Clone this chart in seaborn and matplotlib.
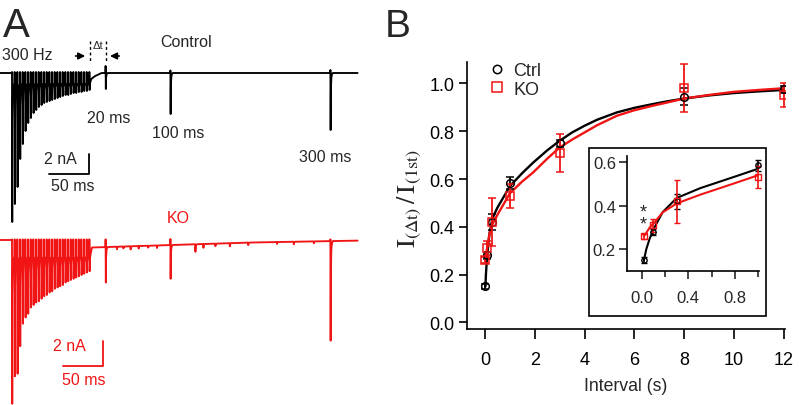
import numpy as np
import pandas as pd
import seaborn as sns
import matplotlib.pyplot as plt
from matplotlib.lines import Line2D
from matplotlib.patches import Rectangle

# ---------------- panel A : EPSC traces (time in ms, current in nA) ----------------
train_ms = [0.0, 3.3, 6.7, 10.0, 13.3, 16.7, 20.0, 23.3, 26.7, 30.0,
            33.3, 36.7, 40.0, 43.3, 46.7, 50.0, 53.3, 56.7, 60.0, 63.3,
            66.7, 70.0, 73.3, 76.7, 80.0, 83.3, 86.7, 90.0, 93.3, 96.7]
probe_ms = [117.0, 198.0, 398.0]
probe_labels = ["20 ms", "100 ms", "300 ms"]

ctrl_train_pk = [-14.9, -13.1, -11.4, -8.6, -7.1, -5.8, -5.0, -4.5, -4.0, -3.7,
                 -3.4, -3.2, -3.0, -2.9, -2.8, -2.7, -2.6, -2.5, -2.4, -2.3,
                 -2.2, -2.2, -2.1, -2.0, -2.0, -1.9, -1.9, -1.8, -1.8, -1.7]
ctrl_probe_pk = [-1.6, -4.1, -5.7]
ctrl_probe_top = [0.7, 0.25, 0.3]
ctrl_base_t = [-15, 0, 2, 97, 99, 104, 112, 432]
ctrl_base_i = [0, 0, -1.1, -1.1, -0.6, -0.3, 0, 0]

ko_train_pk = [-13.1, -10.9, -10.7, -8.5, -6.7, -6.2, -5.9, -5.4, -5.2, -5.0,
               -4.9, -4.7, -4.5, -4.4, -4.2, -4.1, -3.9, -3.8, -3.7, -3.6,
               -3.4, -3.3, -3.2, -3.1, -3.0, -2.9, -2.8, -2.7, -2.6, -2.5]
ko_probe_pk = [-3.4, -3.1, -8.05]
ko_probe_top = [0.05, 0.08, 0.05]
ko_base_t = [-15, 0, 2, 97, 100, 200, 300, 432]
ko_base_i = [0, 0, -1.4, -1.4, -0.6, -0.4, -0.2, -0.05]
ko_mini_t = [131, 139, 148, 158, 170, 181, 229, 239, 254, 272, 295, 331, 352, 377]
ko_mini_amp = [0.2, 0.15, 0.25, 0.2, 0.15, 0.2, 0.6, 0.3, 0.2, 0.25, 0.2, 0.15, 0.2, 0.15]

# ---------------- panel B : recovery from depression ----------------
interval_s = [0.02, 0.1, 0.3, 1, 3, 8, 12]
ctrl_mean = [0.15, 0.28, 0.42, 0.585, 0.75, 0.945, 0.975]
ctrl_sem = [0.012, 0.015, 0.035, 0.025, 0.015, 0.035, 0.015]
ko_mean = [0.26, 0.31, 0.42, 0.53, 0.71, 0.98, 0.95]
ko_sem = [0.012, 0.03, 0.10, 0.05, 0.08, 0.10, 0.05]

fit_x = [0.02, 0.04, 0.07, 0.11, 0.18, 0.3, 0.5, 0.78, 1.0, 1.5, 1.94, 2.5, 3.0,
         3.5, 4.0, 4.5, 5.3, 6.0, 6.7, 7.3, 8.0, 9.0, 10.0, 11.0, 12.0]
ctrl_fit = [0.15, 0.20, 0.25, 0.30, 0.37, 0.435, 0.48, 0.53, 0.57, 0.625, 0.669, 0.72, 0.76,
            0.795, 0.823, 0.848, 0.879, 0.898, 0.913, 0.925, 0.937, 0.95, 0.96, 0.967, 0.973]
ko_fit = [0.26, 0.275, 0.30, 0.323, 0.369, 0.41, 0.45, 0.50, 0.54, 0.59, 0.628, 0.685, 0.732,
          0.765, 0.795, 0.825, 0.865, 0.888, 0.906, 0.92, 0.937, 0.952, 0.965, 0.973, 0.98]
n_in_fit = 9

RED = "#f01414"
W, H = 799, 406

sns.set_style("ticks")
plt.rcParams["font.family"] = ["Liberation Sans", "DejaVu Sans"]
plt.rcParams["mathtext.fontset"] = "stix"

# decay of each synaptic current after its peak (offset ms, remaining fraction)
TAIL = [(0.6, 0.3), (1.2, 0.08), (2.0, 0.02), (3.0, 0.0)]


def px(x, y):
    return x / W, 1 - y / H


def build_trace(base_t, base_i, events):
    events = sorted(events, key=lambda e: e[0])
    xs, ys = [], []
    last = base_t[0] - 1
    for k, (te, top, pk, amp) in enumerate(events):
        nxt = events[k + 1][0] if k + 1 < len(events) else 1e9
        for bt, bi in zip(base_t, base_i):
            if last <= bt < te - 0.1:
                xs.append(bt)
                ys.append(bi)
        b = np.interp(te, base_t, base_i)
        top = b if top is None else top
        pk = b - amp if pk is None else pk
        xs += [te - 0.1, te, te + 0.3]
        ys += [b, top, pk]
        last = te + 0.3
        for off, frac in TAIL:
            if te + off < nxt - 0.1:
                xs.append(te + off)
                ys.append(np.interp(te + off, base_t, base_i) + frac * (pk - b))
                last = te + off
    for bt, bi in zip(base_t, base_i):
        if bt > last:
            xs.append(bt)
            ys.append(bi)
    return xs, ys


fig = plt.figure(figsize=(W / 100, H / 100), dpi=100)

# control trace axes: 0.8 px/ms, 10 px/nA, baseline at y=74
ax_c = fig.add_axes([0, 1 - 230 / H, 360 / W, 200 / H])
ax_c.set_xlim(-15, 435)
ax_c.set_ylim(-15.6, 4.4)
ax_c.axis("off")
ev = [(t, 0.1, p, 0) for t, p in zip(train_ms, ctrl_train_pk)]
ev += [(t, tp, p, 0) for t, tp, p in zip(probe_ms, ctrl_probe_top, ctrl_probe_pk)]
tx, ty = build_trace(ctrl_base_t, ctrl_base_i, ev)
ax_c.plot(tx, ty, color="k", lw=1.35)

fs = 11.5
ax_c.text(-12.5, 1.8, "300 Hz", fontsize=fs, ha="left", va="center")
ax_c.text(217.5, 3.1, "Control", fontsize=fs, ha="center", va="center")
ax_c.text(107.5, 2.8, "\u0394t", fontsize=8, ha="center", va="center")
for t in [97.5, 117.5]:
    ax_c.plot([t, t], [3.2, 1.2], color="k", lw=1, ls=(0, (2, 2)))
ax_c.annotate("", xy=(95, 1.7), xytext=(76, 1.7),
              arrowprops=dict(arrowstyle="-|>", lw=1.2, color="k", mutation_scale=10))
ax_c.annotate("", xy=(119, 1.7), xytext=(137.5, 1.7),
              arrowprops=dict(arrowstyle="-|>", lw=1.2, color="k", mutation_scale=10))
for (lx, ly), lab in zip([(121.25, -4.5), (207.5, -6.0), (391.9, -8.35)], probe_labels):
    ax_c.text(lx, ly, lab, fontsize=fs, ha="center", va="center")
ax_c.plot([46.25, 96.25, 96.25], [-10.1, -10.1, -8.1], color="k", lw=1.3)
ax_c.text(60, -8.6, "2 nA", fontsize=fs, ha="center", va="center")
ax_c.text(75.6, -11.3, "50 ms", fontsize=fs, ha="center", va="center")

# KO trace axes: 0.8 px/ms, 12.5 px/nA, baseline at y=241
ax_k = fig.add_axes([0, 0, 360 / W, 206 / H])
ax_k.set_xlim(-15, 435)
ax_k.set_ylim(-13.2, 3.28)
ax_k.axis("off")
ev = [(t, 0.05, p, 0) for t, p in zip(train_ms, ko_train_pk)]
ev += [(t, tp, p, 0) for t, tp, p in zip(probe_ms, ko_probe_top, ko_probe_pk)]
ev += [(t, None, None, a) for t, a in zip(ko_mini_t, ko_mini_amp)]
tx, ty = build_trace(ko_base_t, ko_base_i, ev)
ax_k.plot(tx, ty, color=RED, lw=1.35)
ax_k.text(208, 1.76, "KO", fontsize=fs, color=RED, ha="center", va="center")
ax_k.plot([64.2, 114.2, 114.2], [-10.05, -10.05, -8.05], color=RED, lw=1.3)
ax_k.text(71.9, -8.45, "2 nA", fontsize=fs, color=RED, ha="center", va="center")
ax_k.text(90, -11.2, "50 ms", fontsize=fs, color=RED, ha="center", va="center")

# ---------------- panel B main axes ----------------
ax = fig.add_axes([467 / W, 1 - 330 / H, 318 / W, 267 / H])
ax.set_facecolor("none")
sns.lineplot(x=fit_x, y=ctrl_fit, color="k", lw=1.7, ax=ax, estimator=None, sort=False)
sns.lineplot(x=fit_x, y=ko_fit, color=RED, lw=1.7, ax=ax, estimator=None, sort=False)
ax.errorbar(interval_s, ctrl_mean, yerr=ctrl_sem, fmt="o", ms=5.5, mfc="none", mec="k",
            mew=1.1, ecolor="k", elinewidth=1.3, capsize=3, capthick=1.3)
ax.errorbar(interval_s, ko_mean, yerr=ko_sem, fmt="s", ms=6, mfc="none", mec=RED,
            mew=1.1, ecolor=RED, elinewidth=1.3, capsize=3, capthick=1.3)
ax.set_xlim(-0.72, 12.05)
ax.set_ylim(-0.028, 1.09)
ax.set_xticks(range(0, 13, 2))
ax.set_yticks([0, 0.2, 0.4, 0.6, 0.8, 1.0])
ax.set_yticklabels([f"{v:.1f}" for v in [0, 0.2, 0.4, 0.6, 0.8, 1.0]])
sns.despine(ax=ax)
for s in ["left", "bottom"]:
    ax.spines[s].set_linewidth(1.2)
    ax.spines[s].set_color("k")
ax.tick_params(axis="x", length=7.5, width=1.2, pad=8, labelsize=13, colors="k")
ax.tick_params(axis="y", length=6, width=1.2, pad=3, labelsize=13, colors="k")
ax.set_xlabel("Interval (s)", fontsize=12.7, labelpad=7)
ax.set_ylabel("")
handles = [Line2D([], [], ls="none", marker="o", ms=6, mfc="none", mec="k", mew=1.1),
           Line2D([], [], ls="none", marker="s", ms=6.5, mfc="none", mec=RED, mew=1.1)]
ax.legend(handles, ["Ctrl", "KO"], loc="upper left", bbox_to_anchor=(0.066, 1.0),
          frameon=False, fontsize=13, handlelength=1.0, handletextpad=0.4,
          labelspacing=0.1, borderpad=0, borderaxespad=0)
fig.text(*px(410, 198), r"$\mathrm{I}_{(\Delta\mathrm{t})}\,/\,\mathrm{I}_{(1\mathrm{st})}$",
         fontsize=19, rotation=90, ha="center", va="center")

# ---------------- inset ----------------
fx, fy = px(589, 317)
fig.add_artist(Rectangle((fx, fy), 177 / W, 168 / H, transform=fig.transFigure,
                         fill=False, lw=1.2, ec="k"))
axi = fig.add_axes([627 / W, 1 - 272 / H, 132 / W, 115 / H])
axi.set_facecolor("none")
n_in = 4
sns.lineplot(x=fit_x[:n_in_fit], y=ctrl_fit[:n_in_fit], color="k", lw=1.5, ax=axi,
             estimator=None, sort=False)
sns.lineplot(x=fit_x[:n_in_fit], y=ko_fit[:n_in_fit], color=RED, lw=1.5, ax=axi,
             estimator=None, sort=False)
axi.errorbar(interval_s[:n_in], ctrl_mean[:n_in], yerr=ctrl_sem[:n_in], fmt="o", ms=3.8,
             mfc="none", mec="k", mew=1.0, ecolor="k", elinewidth=1.2, capsize=2.5,
             capthick=1.2, clip_on=False)
axi.errorbar(interval_s[:n_in], ko_mean[:n_in], yerr=ko_sem[:n_in], fmt="s", ms=4.3,
             mfc="none", mec=RED, mew=1.0, ecolor=RED, elinewidth=1.2, capsize=2.5,
             capthick=1.2, clip_on=False)
axi.set_xlim(-0.125, 1.005)
axi.set_ylim(0.1, 0.628)
axi.set_xticks([0, 0.4, 0.8])
axi.set_xticklabels(["0.0", "0.4", "0.8"])
axi.set_xticks([0.2, 0.6, 1.0], minor=True)
axi.set_yticks([0.2, 0.4, 0.6])
axi.set_yticklabels(["0.2", "0.4", "0.6"])
sns.despine(ax=axi)
for s in ["left", "bottom"]:
    axi.spines[s].set_linewidth(1.2)
    axi.spines[s].set_color("k")
axi.tick_params(axis="x", which="major", length=6, width=1.2, pad=8, labelsize=12)
axi.tick_params(axis="x", which="minor", length=4, width=1.2)
axi.tick_params(axis="y", length=6, width=1.2, pad=2, labelsize=12)
axi.text(0.011, 0.297, "*\n*", fontsize=13, ha="center", va="baseline", linespacing=0.55)

# panel letters
fig.text(*px(3, 37), "A", fontsize=29, ha="left", va="baseline")
fig.text(*px(385, 37), "B", fontsize=28, ha="left", va="baseline")

fig.savefig("out.png", dpi=100)
